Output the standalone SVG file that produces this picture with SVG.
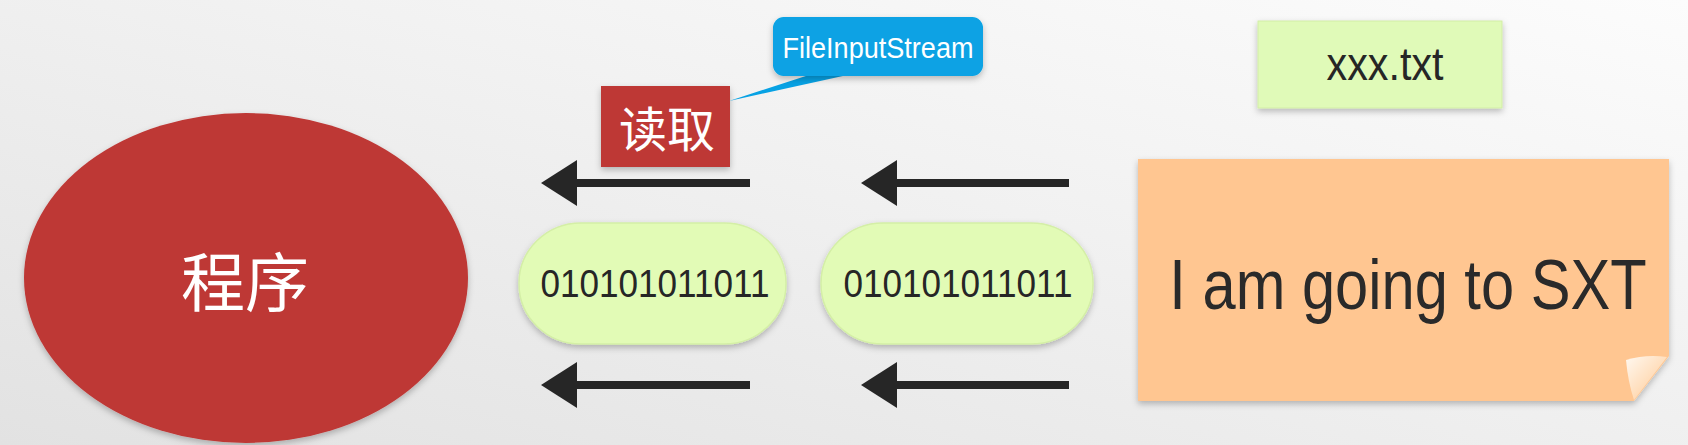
<svg xmlns="http://www.w3.org/2000/svg" width="1688" height="445" viewBox="0 0 1688 445">
  <defs>
    <linearGradient id="bg" x1="0" y1="1" x2="1" y2="0">
      <stop offset="0" stop-color="#e2e2e2"/>
      <stop offset="0.6" stop-color="#f2f2f2"/>
      <stop offset="1" stop-color="#fcfcfc"/>
    </linearGradient>
    <linearGradient id="curl" x1="0" y1="0" x2="1" y2="1">
      <stop offset="0" stop-color="#fff8f0"/>
      <stop offset="0.5" stop-color="#ffe0c0"/>
      <stop offset="1" stop-color="#ffc38c"/>
    </linearGradient>
    <filter id="sh" x="-10%" y="-10%" width="120%" height="130%">
      <feDropShadow dx="0" dy="3" stdDeviation="3" flood-color="#000" flood-opacity="0.25"/>
    </filter>
    <marker id="head" markerUnits="userSpaceOnUse" markerWidth="40" markerHeight="48" refX="2" refY="23" orient="auto" viewBox="0 0 40 48">
      <path d="M0,0 L36,23 L0,46 Z" fill="#262626"/>
    </marker>
    <style>
      .red { fill: #be3735; }
      .pill { fill: #e2fbb6; stroke: #d4efa6; stroke-width: 1.5; }
      .digits { font-family: "Liberation Sans", Arial, sans-serif; font-size: 38px; fill: #262626; text-anchor: middle; }
      .cjk { font-family: "Noto Sans CJK SC", "Noto Sans", sans-serif; fill: #ffffff; text-anchor: middle; }
      .arrow { stroke: #262626; stroke-width: 8; fill: none; marker-end: url(#head); }
    </style>
  </defs>

  <rect x="0" y="0" width="1688" height="445" fill="url(#bg)"/>

  <g id="program">
    <ellipse class="red" cx="246" cy="278" rx="222" ry="165" filter="url(#sh)"/>
    <text class="cjk" x="245" y="306" font-size="64">程序</text>
  </g>

  <g id="read-label">
    <rect class="red" x="601" y="86" width="129" height="81" filter="url(#sh)"/>
    <text class="cjk" x="667" y="147" font-size="48">读取</text>
  </g>

  <g id="fileinputstream-callout">
    <path d="M812,74 L729,101 L852,74 Z" fill="#07a2e4"/>
    <rect x="773" y="17" width="210" height="59" rx="11" ry="11" fill="#07a2e4" filter="url(#sh)"/>
    <text x="878" y="58" font-family="Liberation Sans, Arial, sans-serif" font-size="30" fill="#ffffff" text-anchor="middle" textLength="191" lengthAdjust="spacingAndGlyphs">FileInputStream</text>
  </g>

  <g id="file-name">
    <rect x="1258" y="21" width="244" height="87" fill="#e0fab8" stroke="#d2eea6" stroke-width="1" filter="url(#sh)"/>
    <text x="1385" y="80" font-family="Liberation Sans, Arial, sans-serif" font-size="46" fill="#262626" text-anchor="middle" textLength="117" lengthAdjust="spacingAndGlyphs">xxx.txt</text>
  </g>

  <g id="bits-1">
    <rect class="pill" x="519" y="223" width="267" height="121" rx="62" ry="60" filter="url(#sh)"/>
    <text class="digits" x="655" y="297" textLength="229" lengthAdjust="spacingAndGlyphs">010101011011</text>
  </g>

  <g id="bits-2">
    <rect class="pill" x="821" y="223" width="272" height="121" rx="62" ry="60" filter="url(#sh)"/>
    <text class="digits" x="958" y="297" textLength="229" lengthAdjust="spacingAndGlyphs">010101011011</text>
  </g>

  <g id="file-content">
    <path d="M1138,159 H1669 V356 L1634,401 H1138 Z" fill="#ffc691" filter="url(#sh)"/>
    <path d="M1626,360 Q1646,354 1667,357 L1634,400 Q1628,382 1626,360 Z" fill="url(#curl)"/>
    <text transform="translate(1408,309) scale(0.852,1)" x="0" y="0" font-family="Liberation Sans, Arial, sans-serif" font-size="70" fill="#2a2a2a" text-anchor="middle">I am going to SXT</text>
  </g>

  <g id="connectors">
    <line class="arrow" x1="750" y1="183" x2="575" y2="183"/>
    <line class="arrow" x1="1069" y1="183" x2="895" y2="183"/>
    <line class="arrow" x1="750" y1="385" x2="575" y2="385"/>
    <line class="arrow" x1="1069" y1="385" x2="895" y2="385"/>
  </g>
</svg>
